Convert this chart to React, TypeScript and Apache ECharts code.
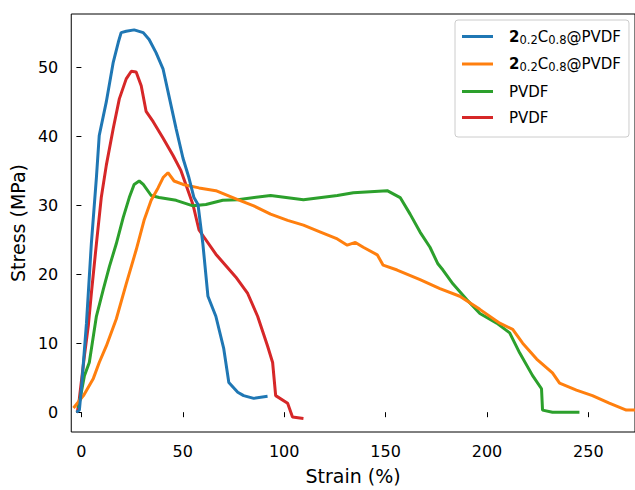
import React, { useEffect, useRef } from "react";
import * as echarts from "echarts";

const FONT = "DejaVu Sans";

const seriesKeys = ["blue", "orange", "green", "red"];
const seriesColors = ["#1f77b4", "#ff7f0e", "#2ca02c", "#d62728"];
const legendLabels = [
  "{b|2}{s|0.2}{n|C}{s|0.8}{n|@PVDF}",
  "{b|2}{s|0.2}{n|C}{s|0.8}{n|@PVDF}",
  "{n|PVDF}",
  "{n|PVDF}",
];

const xTicks = [0, 50, 100, 150, 200, 250];
const yTicks = [0, 10, 20, 30, 40, 50];

const blueData = [
  [-2.5, 0], [-1, 0.3], [0, 3.4], [2.5, 12.9], [4.9, 24.4], [7.4, 34], [8.8, 40.1], [12.3, 45],
  [15.7, 50.7], [18.2, 53.6], [19.6, 55], [22.1, 55.2], [26, 55.4], [30.5, 55], [33.4, 54],
  [36.8, 52.1], [40.3, 49.7], [43.2, 45.8], [46.7, 41.1], [50.1, 36.8], [53, 34], [55.5, 31.1],
  [57.5, 30.1], [59.9, 24.4], [62.4, 16.8], [66.3, 13.9], [70.2, 9.2], [72.7, 4.3], [77.1, 2.9],
  [80, 2.4], [85, 2.0], [91.8, 2.3],
];

const orangeData = [
  [-3.9, 0.6], [1, 2.4], [5.9, 4.9], [8.8, 7.2], [12.3, 9.6], [17.2, 13.5], [22.1, 18.6],
  [27, 23.5], [30.9, 27.8], [34.4, 30.7], [37.8, 32.5], [40.3, 34], [42.7, 34.7], [45.7, 33.5],
  [50.1, 33], [58, 32.5], [66.3, 32.1], [77.1, 30.8], [85, 29.9], [93.3, 28.7], [101.7, 27.8],
  [109.5, 27.1], [117.9, 26.1], [126.2, 25.1], [131.1, 24.2], [135.1, 24.6], [139, 23.9],
  [145.9, 22.8], [148.8, 21.3], [155.7, 20.6], [167, 19.2], [176.8, 17.9], [186.6, 16.8],
  [196.5, 14.9], [206.3, 12.9], [212.7, 12], [217.6, 10], [224.5, 7.7], [232.3, 5.7],
  [235.8, 4.2], [244.1, 3.2], [252, 2.4], [260.3, 1.3], [268.7, 0.3], [275, 0.3],
];

const greenData = [
  [-1.5, 0.6], [1.5, 5.3], [3.9, 7.2], [7.4, 13.9], [10.8, 17.8], [13.8, 21.1], [17.2, 24.4],
  [20.6, 28.2], [23.6, 31.1], [26, 33], [28.5, 33.5], [30.5, 33], [34.4, 31.4], [38.3, 31.1],
  [46.7, 30.7], [55, 29.9], [61.4, 30.1], [69.7, 30.7], [77.1, 30.8], [93.3, 31.4], [109.5, 30.8],
  [126.2, 31.4], [134.1, 31.8], [150.8, 32.1], [157.2, 31.1], [162.1, 28.7], [167, 26.1],
  [171.9, 23.9], [175.8, 21.5], [178.3, 20.6], [183.2, 18.6], [190.1, 16.3], [196.5, 14.3],
  [204.8, 12.9], [211.2, 11.5], [216.1, 8.6], [222.5, 5.3], [226.9, 3.4], [227.4, 0.3],
  [232.3, 0], [245.6, 0],
];

const redData = [
  [-2, 0], [-1, 2.0], [1.5, 8.2], [3.4, 12.5], [4.9, 17.2], [7.4, 24.4], [9.8, 31.1],
  [12.3, 35.8], [15.7, 41.1], [18.7, 45.4], [22.1, 48.3], [24.6, 49.4], [27, 49.3], [29.5, 47.3],
  [31.9, 43.6], [35.4, 42.1], [40.3, 39.7], [45.2, 37.2], [49.1, 35], [52.6, 32.1], [55, 30.1],
  [58, 26.4], [66.3, 22.9], [76.1, 19.6], [82, 17.2], [86.9, 13.9], [91.8, 9.6], [94.3, 7.2],
  [95.8, 2.4], [101.7, 1.3], [104.1, -0.7], [109.5, -0.9],
];

const allData = [blueData, orangeData, greenData, redData];

export default function App() {
  const ref = useRef<HTMLDivElement>(null);
  useEffect(() => {
    if (!ref.current) return;
    const chart = echarts.init(ref.current, null, { renderer: "svg" });
    chart.setOption({
      animation: false,
      backgroundColor: "#fff",
      grid: {
        left: 69,
        top: 14,
        right: -2,
        bottom: 53,
        show: true,
        borderColor: "#000",
        borderWidth: 1,
        containLabel: false,
      },
      xAxis: {
        type: "value",
        min: -5,
        max: 273,
        name: "Strain (%)",
        nameLocation: "middle",
        nameGap: 34,
        nameTextStyle: { fontFamily: FONT, fontSize: 19, color: "#000" },
        axisLine: { show: false },
        splitLine: { show: false },
        axisTick: { show: true, customValues: xTicks, length: 5, lineStyle: { color: "#000" } },
        axisLabel: { customValues: xTicks, fontFamily: FONT, fontSize: 16, color: "#000", margin: 11 },
      },
      yAxis: {
        type: "value",
        min: -2.87,
        max: 57.7,
        name: "Stress (MPa)",
        nameLocation: "middle",
        nameGap: 40,
        nameTextStyle: { fontFamily: FONT, fontSize: 19, color: "#000" },
        axisLine: { show: false },
        splitLine: { show: false },
        axisTick: { show: true, customValues: yTicks, length: 5, lineStyle: { color: "#000" } },
        axisLabel: { customValues: yTicks, fontFamily: FONT, fontSize: 16, color: "#000", margin: 13 },
      },
      legend: {
        orient: "vertical",
        left: 455,
        top: 20,
        padding: [9, 8, 12, 7],
        itemWidth: 31,
        itemHeight: 14,
        itemGap: 11,
        icon: "path://M0,0 L31,0 L31,3 L0,3 Z",
        backgroundColor: "rgba(255,255,255,0.8)",
        borderColor: "#cccccc",
        borderWidth: 1,
        borderRadius: 3,
        data: seriesKeys,
        formatter: (name: string) => legendLabels[seriesKeys.indexOf(name)],
        textStyle: {
          fontFamily: FONT,
          fontSize: 15,
          color: "#000",
          padding: [0, 0, 0, 11],
          rich: {
            n: { fontFamily: FONT, fontSize: 15, color: "#000", lineHeight: 18, verticalAlign: "middle" },
            b: { fontFamily: FONT, fontSize: 15, fontWeight: "bold", color: "#000", lineHeight: 18, verticalAlign: "middle" },
            s: { fontFamily: FONT, fontSize: 11.5, color: "#000", lineHeight: 12, verticalAlign: "bottom" },
          },
        },
      },
      series: seriesKeys.map((k, i) => ({
        name: k,
        type: "line",
        data: allData[i],
        showSymbol: false,
        symbol: "none",
        color: seriesColors[i],
        lineStyle: { width: 3, color: seriesColors[i] },
        z: 10 - i,
      })),
    });
    return () => chart.dispose();
  }, []);
  return <div ref={ref} style={{ width: 635, height: 490, position: "absolute", left: 0, top: 0 }} />;
}
